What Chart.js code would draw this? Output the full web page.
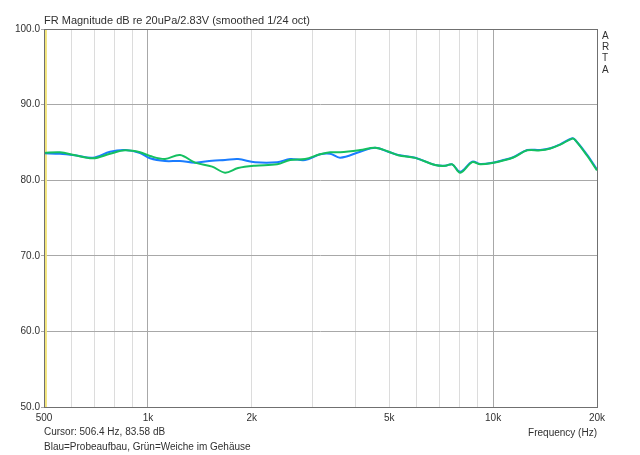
<!DOCTYPE html>
<html><head><meta charset="utf-8">
<script src="https://cdn.jsdelivr.net/npm/chart.js@4.4.0/dist/chart.umd.min.js"></script>
<style>html,body{margin:0;background:#fff;overflow:hidden}</style></head>
<body><div style="width:640px;height:455px"><canvas id="chart"></canvas></div>
<script>
// frequency points (Hz)
const FREQS = [500, 556, 615, 693, 777, 859, 949, 1014, 1121, 1239, 1370, 1535, 1673, 1825, 2044,
  2368, 2582, 2854, 3155, 3373, 3606, 4121, 4554, 4966, 5309, 5948, 6797, 7267, 7616, 8031,
  8702, 9177, 10010, 10700, 11440, 12560, 13700, 14650, 15650, 16960, 17300, 18750, 20000];

// Blau = Probeaufbau
const BLUE = [83.56, 83.5, 83.3, 82.98, 83.77, 83.99, 83.6, 82.9, 82.54, 82.54, 82.32, 82.58, 82.67, 82.8, 82.37,
  82.37, 82.8, 82.67, 83.43, 83.51, 82.98, 83.77, 84.3, 83.77, 83.33, 82.98, 82.01, 81.92, 82.1, 81.12,
  82.45, 82.14, 82.32, 82.67, 83.03, 83.99, 83.99, 84.22, 84.75, 85.54, 85.32, 83.33, 81.4];

// Grün = Weiche im Gehäuse
const GREEN = [83.6, 83.7, 83.3, 82.9, 83.5, 83.95, 83.7, 83.2, 82.8, 83.33, 82.32, 81.79, 81.0, 81.61, 81.92,
  82.1, 82.67, 82.8, 83.43, 83.69, 83.69, 83.99, 84.3, 83.8, 83.3, 82.95, 82.0, 81.9, 82.1, 81.0,
  82.4, 82.1, 82.3, 82.6, 83.0, 83.95, 83.95, 84.2, 84.7, 85.5, 85.3, 83.2, 81.3];

const X_GRID = [500, 600, 700, 800, 900, 1000, 2000, 3000, 4000, 5000, 6000, 7000, 8000, 9000,
  10000, 20000];
const X_LABELS = { 500: '500', 1000: '1k', 2000: '2k', 5000: '5k', 10000: '10k', 20000: '20k' };
const X_MAJOR = [1000, 10000];
const Y_MIN = 50, Y_MAX = 100;
const CURSOR_HZ = 506.4;

const FONT = '"Liberation Sans", Arial, sans-serif';

const pts = vals => FREQS.map((f, i) => ({ x: f, y: vals[i] }));

const textPlugin = {
    id: 'texts',
    afterDraw(chart) {
        const ctx = chart.ctx;
        const a = chart.chartArea;
        ctx.save();
        // frame
        ctx.strokeStyle = '#707070';
        ctx.lineWidth = 1;
        ctx.strokeRect(Math.round(a.left) + 0.5, Math.round(a.top) + 0.5,
            Math.round(a.right - a.left), Math.round(a.bottom - a.top));
        ctx.fillStyle = '#303030';
        ctx.textBaseline = 'alphabetic';
        ctx.font = '11px ' + FONT;
        ctx.fillText('FR Magnitude dB re 20uPa/2.83V (smoothed 1/24 oct)', a.left, 24);
        ctx.font = '10px ' + FONT;
        ctx.textBaseline = 'middle';
        ctx.fillText('Cursor: 506.4 Hz, 83.58 dB', a.left, 432);
        ctx.fillText('Blau=Probeaufbau, Grün=Weiche im Gehäuse', a.left, 447);
        ctx.textAlign = 'right';
        ctx.fillText('Frequency (Hz)', a.right, 433);
        ctx.textAlign = 'left';
        ['A', 'R', 'T', 'A'].forEach((ch, i) => ctx.fillText(ch, a.right + 5, 36 + i * 11.3));
        ctx.restore();
    }
};

new Chart(document.getElementById('chart'), {
    type: 'line',
    data: {
        datasets: [
            {
                label: 'Grün',
                data: pts(GREEN),
                borderColor: '#14c060',
                borderWidth: 2,
                pointRadius: 0,
                tension: 0.35
            },
            {
                label: 'Blau',
                data: pts(BLUE),
                borderColor: '#1a7cff',
                borderWidth: 2,
                pointRadius: 0,
                tension: 0.35
            },
            {
                label: 'Cursor',
                data: [{ x: CURSOR_HZ, y: Y_MIN }, { x: CURSOR_HZ, y: Y_MAX }],
                borderColor: '#f2e47a',
                borderWidth: 2,
                pointRadius: 0
            }
        ]
    },
    options: {
        responsive: true,
        maintainAspectRatio: false,
        animation: false,
        layout: { padding: { top: 29, right: 43, left: 0, bottom: 0 } },
        plugins: { legend: { display: false }, tooltip: { enabled: false } },
        scales: {
            x: {
                type: 'logarithmic',
                min: 500,
                max: 20000,
                afterBuildTicks: s => { s.ticks = X_GRID.map(v => ({ value: v })); },
                afterFit: s => { s.height = 48; },
                border: { display: false },
                grid: {
                    color: c => X_MAJOR.includes(c.tick.value) ? '#a8a8a8' : '#dcdcdc',
                    drawTicks: false
                },
                ticks: {
                    autoSkip: false,
                    maxRotation: 0,
                    padding: 5,
                    color: '#303030',
                    font: { family: FONT, size: 10 },
                    callback: v => X_LABELS[v] || ''
                }
            },
            y: {
                min: Y_MIN,
                max: Y_MAX,
                afterFit: s => { s.width = 44; },
                border: { display: false },
                grid: { color: '#a8a8a8', tickLength: 3 },
                ticks: {
                    stepSize: 10,
                    padding: 1,
                    color: '#303030',
                    font: { family: FONT, size: 10 },
                    callback: v => v.toFixed(1)
                }
            }
        }
    },
    plugins: [textPlugin]
});
</script></body></html>
